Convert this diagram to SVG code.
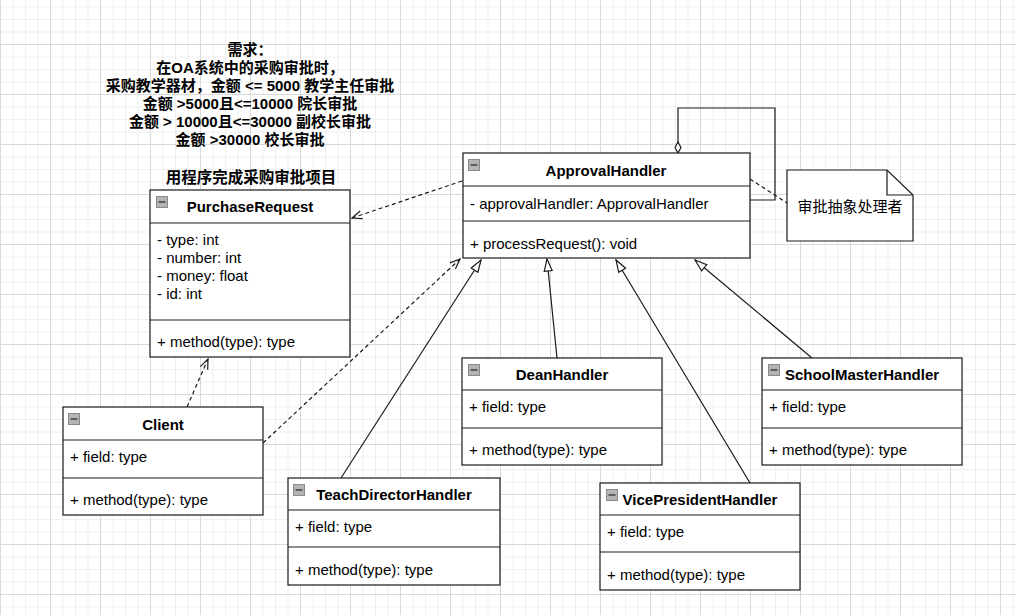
<svg xmlns="http://www.w3.org/2000/svg" xmlns:xlink="http://www.w3.org/1999/xlink" width="1016" height="615" viewBox="0 0 1016 615">
<style>
.box{fill:#fff;stroke:#1a1a1a;stroke-width:1.2}
.sep{stroke:#1a1a1a;stroke-width:1.2}
.t{font-family:"Liberation Sans",Arial,sans-serif;font-size:15px;font-weight:bold;fill:#000;text-anchor:middle}
.a{font-family:"Liberation Sans",Arial,sans-serif;font-size:15px;fill:#000}
.cn{font-family:"Liberation Sans","Noto Sans CJK SC",sans-serif;font-weight:bold;fill:#000;text-anchor:middle}
.note{font-family:"Noto Sans CJK SC",sans-serif;font-size:15px;fill:#000;text-anchor:middle}
.dash{fill:none;stroke:#1a1a1a;stroke-width:1.2;stroke-dasharray:4 3}
.solid{fill:none;stroke:#1a1a1a;stroke-width:1.2}
</style>
<defs>
<pattern id="grid" x="0" y="-6" width="50" height="50" patternUnits="userSpaceOnUse">
<rect x="0" y="0" width="50" height="50" fill="#fff"/>
<rect x="12.5" y="0" width="1" height="50" fill="#efefef"/>
<rect x="25" y="0" width="1" height="50" fill="#efefef"/>
<rect x="37.5" y="0" width="1" height="50" fill="#efefef"/>
<rect x="0" y="12.5" width="50" height="1" fill="#efefef"/>
<rect x="0" y="25" width="50" height="1" fill="#efefef"/>
<rect x="0" y="37.5" width="50" height="1" fill="#efefef"/>
<rect x="0" y="0" width="1" height="50" fill="#d9d9d9"/>
<rect x="0" y="0" width="50" height="1" fill="#d9d9d9"/>
</pattern>
<marker id="open" viewBox="0 0 12 10" refX="11" refY="5" markerWidth="12" markerHeight="10" markerUnits="userSpaceOnUse" orient="auto">
<path d="M1,1 L11,5 L1,9" fill="none" stroke="#1a1a1a" stroke-width="1.2"/>
</marker>
<marker id="tri" viewBox="0 0 14 10" refX="13" refY="5" markerWidth="14" markerHeight="10" markerUnits="userSpaceOnUse" orient="auto">
<path d="M1,1 L13,5 L1,9 Z" fill="#fff" stroke="#1a1a1a" stroke-width="1.2"/>
</marker>
<marker id="dia" viewBox="0 0 13 8" refX="12" refY="4" markerWidth="13" markerHeight="8" markerUnits="userSpaceOnUse" orient="auto">
<path d="M1,4 L6.5,1 L12,4 L6.5,7 Z" fill="#fff" stroke="#1a1a1a" stroke-width="1.2"/>
</marker>
<g id="ico">
<rect x="0.5" y="0.5" width="11" height="11" fill="#b4b4b4" stroke="#8a8a8a" stroke-width="1"/>
<line x1="2.5" y1="6" x2="9.5" y2="6" stroke="#4a4a4a" stroke-width="1.6"/>
</g>
</defs>
<rect width="1016" height="615" fill="url(#grid)"/>

<g id="requirements">
<text class="cn" font-size="15" x="250" y="55">需求：</text>
<text class="cn" font-size="15" x="250" y="73">在OA系统中的采购审批时，</text>
<text class="cn" font-size="15" x="250" y="91">采购教学器材，金额 &lt;= 5000 教学主任审批</text>
<text class="cn" font-size="15" x="250" y="109">金额 &gt;5000且&lt;=10000 院长审批</text>
<text class="cn" font-size="15" x="250" y="127">金额 &gt; 10000且&lt;=30000 副校长审批</text>
<text class="cn" font-size="15" x="250" y="145">金额 &gt;30000 校长审批</text>
<text class="cn" font-size="15.5" x="251" y="183">用程序完成采购审批项目</text>
</g>

<g id="connectors">
<line class="dash" x1="462" y1="181" x2="352" y2="218" marker-end="url(#open)"/>
<line class="dash" x1="187" y1="407" x2="208" y2="359" marker-end="url(#open)"/>
<line class="dash" x1="263" y1="443" x2="460" y2="259" marker-end="url(#open)"/>
<line class="solid" x1="341" y1="478" x2="481" y2="260" marker-end="url(#tri)"/>
<line class="solid" x1="557" y1="358" x2="547" y2="259" marker-end="url(#tri)"/>
<line class="solid" x1="750" y1="483" x2="616" y2="260" marker-end="url(#tri)"/>
<line class="solid" x1="812" y1="358" x2="695" y2="260" marker-end="url(#tri)"/>
<path class="solid" d="M750,200 H775 V108 H678 V153" marker-end="url(#dia)"/>
<line class="dash" x1="750" y1="179" x2="787" y2="203"/>
</g>

<g id="PurchaseRequest">
<rect class="box" x="150" y="190" width="200" height="167"/>
<line class="sep" x1="150" y1="223" x2="350" y2="223"/>
<line class="sep" x1="150" y1="320" x2="350" y2="320"/>
<use xlink:href="#ico" x="156" y="196"/>
<text class="t" x="250" y="212">PurchaseRequest</text>
<text class="a" x="157" y="245">- type: int</text>
<text class="a" x="157" y="263">- number: int</text>
<text class="a" x="157" y="281">- money: float</text>
<text class="a" x="157" y="299">- id: int</text>
<text class="a" x="157" y="347">+ method(type): type</text>
</g>

<g id="ApprovalHandler">
<rect class="box" x="463" y="153" width="287" height="105"/>
<line class="sep" x1="463" y1="186" x2="750" y2="186"/>
<line class="sep" x1="463" y1="221" x2="750" y2="221"/>
<use xlink:href="#ico" x="468" y="159"/>
<text class="t" x="606" y="176">ApprovalHandler</text>
<text class="a" x="470" y="209">- approvalHandler: ApprovalHandler</text>
<text class="a" x="470" y="249">+ processRequest(): void</text>
</g>

<g id="note">
<path d="M787,170 H887 L913,195 V241 H787 Z" fill="#fff" stroke="#1a1a1a" stroke-width="1.2"/>
<path d="M887,170 V195 H913" fill="none" stroke="#1a1a1a" stroke-width="1.2"/>
<text class="note" x="850" y="212">审批抽象处理者</text>
</g>

<g id="Client">
<rect class="box" x="63" y="407" width="200" height="108"/>
<line class="sep" x1="63" y1="440" x2="263" y2="440"/>
<line class="sep" x1="63" y1="478" x2="263" y2="478"/>
<use xlink:href="#ico" x="68" y="413"/>
<text class="t" x="163" y="430">Client</text>
<text class="a" x="70" y="462">+ field: type</text>
<text class="a" x="70" y="505">+ method(type): type</text>
</g>

<g id="TeachDirectorHandler">
<rect class="box" x="288" y="478" width="212" height="107"/>
<line class="sep" x1="288" y1="510" x2="500" y2="510"/>
<line class="sep" x1="288" y1="547" x2="500" y2="547"/>
<use xlink:href="#ico" x="293" y="484"/>
<text class="t" x="394" y="500">TeachDirectorHandler</text>
<text class="a" x="295" y="532">+ field: type</text>
<text class="a" x="295" y="575">+ method(type): type</text>
</g>

<g id="DeanHandler">
<rect class="box" x="462" y="358" width="200" height="107"/>
<line class="sep" x1="462" y1="390" x2="662" y2="390"/>
<line class="sep" x1="462" y1="428" x2="662" y2="428"/>
<use xlink:href="#ico" x="468" y="364"/>
<text class="t" x="562" y="380">DeanHandler</text>
<text class="a" x="469" y="412">+ field: type</text>
<text class="a" x="469" y="455">+ method(type): type</text>
</g>

<g id="SchoolMasterHandler">
<rect class="box" x="762" y="358" width="200" height="107"/>
<line class="sep" x1="762" y1="390" x2="962" y2="390"/>
<line class="sep" x1="762" y1="428" x2="962" y2="428"/>
<use xlink:href="#ico" x="768" y="364"/>
<text class="t" x="862" y="380">SchoolMasterHandler</text>
<text class="a" x="769" y="412">+ field: type</text>
<text class="a" x="769" y="455">+ method(type): type</text>
</g>

<g id="VicePresidentHandler">
<rect class="box" x="600" y="483" width="200" height="107"/>
<line class="sep" x1="600" y1="515" x2="800" y2="515"/>
<line class="sep" x1="600" y1="552" x2="800" y2="552"/>
<use xlink:href="#ico" x="606" y="489"/>
<text class="t" x="700" y="505">VicePresidentHandler</text>
<text class="a" x="607" y="537">+ field: type</text>
<text class="a" x="607" y="580">+ method(type): type</text>
</g>
</svg>
